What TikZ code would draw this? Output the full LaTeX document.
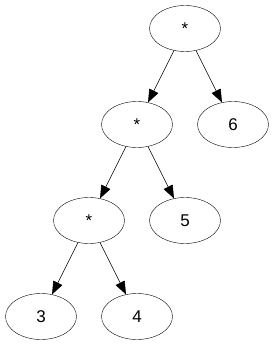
\documentclass[tikz,border=0pt]{standalone}
\usepackage{fontspec}
\setmainfont{Liberation Sans}
\usetikzlibrary{positioning,arrows.meta,shapes.geometric}

\begin{document}
\begin{tikzpicture}[->, >={Triangle[length=13pt,width=10pt]}, node distance=96pt and 48pt, on grid, main/.style = {ellipse, draw, fill=none, minimum width=71pt, minimum height=46pt, inner sep=0pt, font=\fontsize{17}{20}\selectfont}, every edge/.append style={line width=0.6pt}]

\useasboundingbox (0,0) rectangle (275pt,-347pt);

\node[main] (1) at (185pt,-28.5pt) {*};
\node[main] (2) [below left=of 1] {*};
\node[main] (3) [below right=of 1] {6};
\node[main] (4) [below left=of 2] {*};
\node[main] (5) [below right=of 2] {5};
\node[main] (6) [below left=of 4] {3};
\node[main] (7) [below right=of 4] {4};

\path[line width=0.6pt]
    (1) edge (2)
    (1) edge (3)
    (2) edge (4)
    (2) edge (5)
    (4) edge (6)
    (4) edge (7);
\end{tikzpicture}
\end{document}
